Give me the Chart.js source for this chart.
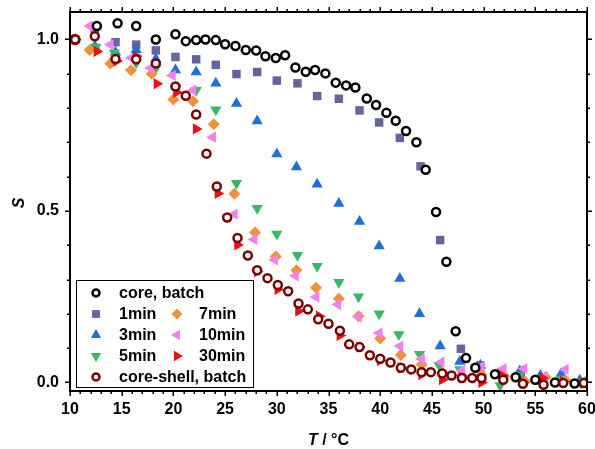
<!DOCTYPE html>
<html>
<head>
<meta charset="utf-8">
<script src="https://cdn.jsdelivr.net/npm/chart.js@4.4.1/dist/chart.umd.min.js"></script>
<style>
  html, body { margin: 0; padding: 0; background: #fff; }
  canvas { display: block; }
</style>
</head>
<body>
<canvas id="chart" width="595" height="449"></canvas>
<script>
// Values (T in °C, S)
const coreBatchT = [10.5, 12.6, 14.6, 16.4, 18.3, 20.2, 21.2, 22.2, 23.1, 24.1, 25.0, 26.0, 27.0, 28.0, 28.9, 29.9, 30.8, 31.8, 32.8, 33.7, 34.7, 35.7, 36.7, 37.6, 38.7, 39.6, 40.6, 41.5, 42.5, 43.5, 44.4, 45.4, 46.4, 47.3, 48.3, 49.2, 51.1, 53.1, 55.0, 56.9, 58.8];
const coreBatchS = [1.0, 1.039, 1.047, 1.039, 1.0, 1.015, 0.995, 0.998, 1.0, 0.998, 0.986, 0.981, 0.969, 0.968, 0.951, 0.946, 0.954, 0.918, 0.906, 0.911, 0.901, 0.874, 0.866, 0.86, 0.828, 0.809, 0.786, 0.763, 0.733, 0.70, 0.62, 0.497, 0.352, 0.149, 0.071, 0.043, 0.024, 0.015, 0.008, 0.0, -0.003];

const min1T = [10.5, 12.4, 14.4, 16.4, 18.3, 20.2, 22.2, 24.1, 26.1, 28.1, 30.0, 32.0, 33.9, 36.0, 38.0, 39.9, 41.9, 43.9, 45.8, 47.8, 49.7, 51.7, 53.6, 55.6, 57.5, 59.5];
const min1S = [1.0, 1.02, 0.992, 0.985, 0.968, 0.949, 0.942, 0.926, 0.899, 0.905, 0.88, 0.872, 0.835, 0.827, 0.793, 0.758, 0.713, 0.63, 0.415, 0.098, 0.05, 0.03, 0.02, 0.01, 0.005, 0.0];

const min3T = [10.5, 12.4, 14.4, 16.4, 18.3, 20.2, 22.2, 24.1, 26.1, 28.1, 30.0, 31.9, 33.9, 36.0, 38.0, 39.9, 41.9, 43.8, 45.8, 47.7, 49.7, 51.6, 53.5, 55.5, 57.5, 59.3];
const min3S = [1.0, 0.98, 0.963, 0.97, 0.943, 0.911, 0.905, 0.872, 0.813, 0.762, 0.666, 0.628, 0.578, 0.522, 0.469, 0.398, 0.303, 0.2, 0.106, 0.061, 0.05, 0.023, 0.033, 0.02, 0.025, 0.006];

const min5T = [10.5, 12.5, 14.3, 16.4, 18.3, 20.2, 22.2, 24.1, 26.1, 28.1, 30.0, 32.0, 33.9, 36.0, 37.9, 39.9, 41.8, 43.8, 45.7, 47.7, 49.7, 51.6, 53.5, 55.5, 57.5, 59.4];
const min5S = [1.0, 0.978, 0.961, 0.932, 0.917, 0.858, 0.852, 0.795, 0.581, 0.508, 0.433, 0.371, 0.339, 0.292, 0.25, 0.2, 0.14, 0.082, 0.05, 0.038, 0.035, -0.009, 0.02, 0.0, 0.01, 0.0];

const min7T = [10.5, 11.9, 13.9, 15.9, 17.9, 20.0, 21.9, 23.9, 25.9, 27.9, 29.9, 31.9, 33.8, 36.0, 37.9, 40.0, 42.0, 44.0, 46.0, 47.9, 49.8, 52.0, 54.0, 56.0, 57.9, 59.8];
const min7S = [1.0, 0.969, 0.93, 0.91, 0.9, 0.825, 0.82, 0.753, 0.55, 0.437, 0.367, 0.327, 0.276, 0.244, 0.193, 0.128, 0.08, 0.052, 0.028, 0.02, 0.023, 0.018, 0.003, 0.016, 0.006, 0.001];

const min10T = [10.5, 11.9, 13.9, 15.9, 17.8, 19.9, 21.9, 23.8, 25.9, 27.8, 29.8, 31.8, 33.8, 35.9, 37.9, 39.9, 41.9, 44.0, 45.9, 47.9, 49.8, 51.9, 53.9, 55.9, 57.9, 59.8];
const min10S = [1.0, 1.039, 0.985, 0.946, 0.917, 0.895, 0.852, 0.715, 0.491, 0.417, 0.357, 0.311, 0.249, 0.227, 0.191, 0.144, 0.106, 0.069, 0.059, 0.035, 0.047, 0.04, 0.04, 0.016, 0.038, 0.003];

const min30T = [10.5, 12.6, 14.5, 16.4, 18.4, 20.3, 22.2, 24.3, 26.2, 28.1, 30.1, 32.1, 34.1, 36.1, 38.0, 40.0, 42.0, 44.0, 46.0, 47.9, 49.8, 51.8, 53.8, 55.7, 57.7, 59.7];
const min30S = [1.0, 0.965, 0.937, 0.951, 0.871, 0.846, 0.739, 0.551, 0.401, 0.323, 0.271, 0.208, 0.193, 0.137, 0.103, 0.064, 0.043, 0.023, 0.008, 0.014, 0.0, 0.02, 0.0, 0.013, 0.003, -0.003];

const coreShellT = [10.5, 12.4, 14.4, 16.4, 18.3, 20.2, 21.2, 22.2, 23.2, 24.2, 25.2, 26.2, 27.2, 28.1, 29.1, 30.1, 31.1, 32.1, 33.0, 34.0, 35.0, 36.1, 37.0, 38.0, 39.0, 40.0, 41.0, 42.0, 43.0, 44.0, 44.9, 46.0, 46.9, 47.9, 48.9, 49.8, 51.9, 53.8, 55.8, 57.7, 59.7];
const coreShellS = [1.0, 1.009, 0.943, 0.942, 0.93, 0.863, 0.836, 0.781, 0.667, 0.571, 0.481, 0.421, 0.37, 0.327, 0.304, 0.284, 0.266, 0.23, 0.213, 0.184, 0.171, 0.151, 0.111, 0.103, 0.079, 0.069, 0.058, 0.043, 0.038, 0.03, 0.03, 0.026, 0.02, 0.013, 0.013, 0.013, 0.008, -0.004, -0.007, -0.002, -0.002];

// Axis ticks
const xTicks = [10, 15, 20, 25, 30, 35, 40, 45, 50, 55, 60];
const yTicks = [0.0, 0.5, 1.0];

function pts(xs, ys) {
    return xs.map((x, i) => ({ x: x, y: ys[i] }));
}

const datasets = [
    { label: 'core, batch', data: pts(coreBatchT, coreBatchS), pointStyle: 'circle', pointRadius: 4, borderWidth: 2.5, borderColor: '#000000', backgroundColor: '#ffffff', rotation: 0, order: 1 },
    { label: '1min', data: pts(min1T, min1S), pointStyle: 'rect', pointRadius: 6, borderWidth: 0, borderColor: '#64649f', backgroundColor: '#64649f', rotation: 0, order: 7 },
    { label: '3min', data: pts(min3T, min3S), pointStyle: 'triangle', pointRadius: 6.5, borderWidth: 0, borderColor: '#1f6fdb', backgroundColor: '#1f6fdb', rotation: 0, order: 6 },
    { label: '5min', data: pts(min5T, min5S), pointStyle: 'triangle', pointRadius: 6.5, borderWidth: 0, borderColor: '#37b866', backgroundColor: '#37b866', rotation: 180, order: 5 },
    { label: '7min', data: pts(min7T, min7S), pointStyle: 'rectRot', pointRadius: 6, borderWidth: 0, borderColor: '#f0913c', backgroundColor: '#f0913c', rotation: 0, order: 4 },
    { label: '10min', data: pts(min10T, min10S), pointStyle: 'triangle', pointRadius: 6.5, borderWidth: 0, borderColor: '#f47ef2', backgroundColor: '#f47ef2', rotation: 270, order: 3 },
    { label: '30min', data: pts(min30T, min30S), pointStyle: 'triangle', pointRadius: 6.5, borderWidth: 0, borderColor: '#ec1010', backgroundColor: '#ec1010', rotation: 90, order: 2 },
    { label: 'core-shell, batch', data: pts(coreShellT, coreShellS), pointStyle: 'circle', pointRadius: 4, borderWidth: 2.5, borderColor: '#780000', backgroundColor: '#ffffff', rotation: 0, order: 0 }
];

// legend layout: rows of dataset indices
const legendRows = [[0], [1, 4], [2, 5], [3, 6], [7]];

const frame = {
    id: 'frame',
    afterDraw(chart) {
        const { ctx, chartArea: a, scales: { x, y } } = chart;
        ctx.save();
        ctx.strokeStyle = '#000';
        ctx.lineWidth = 2;
        ctx.strokeRect(a.left, a.top, a.right - a.left, a.bottom - a.top);

        // ticks on all four sides, pointing out
        ctx.lineWidth = 1.5;
        ctx.beginPath();
        for (let v = 10; v <= 60; v++) {
            const px = Math.round(x.getPixelForValue(v)) + 0.25;
            const len = v % 5 === 0 ? 5 : 3;
            ctx.moveTo(px, a.bottom); ctx.lineTo(px, a.bottom + len);
            ctx.moveTo(px, a.top); ctx.lineTo(px, a.top - len);
        }
        for (let k = 0; k <= 10; k++) {
            const py = Math.round(y.getPixelForValue(k / 10)) + 0.25;
            const len = k % 5 === 0 ? 5 : 3;
            ctx.moveTo(a.left, py); ctx.lineTo(a.left - len, py);
            ctx.moveTo(a.right, py); ctx.lineTo(a.right + len, py);
        }
        ctx.stroke();

        // axis titles
        ctx.fillStyle = '#000';
        ctx.textBaseline = 'alphabetic';
        ctx.textAlign = 'left';
        ctx.font = 'italic bold 16px "Liberation Sans", Arial, sans-serif';
        const tW = ctx.measureText('T').width;
        ctx.font = 'bold 16px "Liberation Sans", Arial, sans-serif';
        const restW = ctx.measureText(' / °C').width;
        const cx = (a.left + a.right) / 2;
        let sx = cx - (tW + restW) / 2;
        ctx.font = 'italic bold 16px "Liberation Sans", Arial, sans-serif';
        ctx.fillText('T', sx, 445);
        ctx.font = 'bold 16px "Liberation Sans", Arial, sans-serif';
        ctx.fillText(' / °C', sx + tW, 445);

        ctx.save();
        ctx.translate(24, 203);
        ctx.rotate(-Math.PI / 2);
        ctx.textAlign = 'center';
        ctx.font = 'italic bold 16px "Liberation Sans", Arial, sans-serif';
        ctx.fillText('S', 0, 0);
        ctx.restore();

        // legend box
        const box = { left: 76, top: 280, right: 253, bottom: 387 };
        ctx.fillStyle = '#fff';
        ctx.fillRect(box.left, box.top, box.right - box.left, box.bottom - box.top);
        ctx.lineWidth = 1;
        ctx.strokeStyle = '#000';
        ctx.strokeRect(box.left + 0.5, box.top + 0.5, box.right - box.left, box.bottom - box.top);

        const colSym = [96, 177];
        const colText = [119, 199];
        ctx.font = 'bold 16px "Liberation Sans", Arial, sans-serif';
        ctx.textBaseline = 'middle';
        legendRows.forEach((row, r) => {
            const ry = 293 + r * 21;
            row.forEach((di, c) => {
                const ds = chart.data.datasets[di];
                ctx.fillStyle = ds.backgroundColor;
                ctx.strokeStyle = ds.borderColor;
                ctx.lineWidth = ds.borderWidth;
                Chart.helpers.drawPoint(ctx, {
                    pointStyle: ds.pointStyle,
                    radius: ds.pointStyle === 'circle' ? 3.5 : ds.pointRadius - 0.5,
                    rotation: ds.rotation,
                    borderWidth: ds.borderWidth
                }, colSym[c], ry);
                ctx.fillStyle = '#000';
                ctx.textAlign = 'left';
                ctx.fillText(ds.label, colText[c], ry + 1);
            });
        });
        ctx.restore();
    }
};

new Chart(document.getElementById('chart'), {
    type: 'scatter',
    data: {
        datasets: datasets.map(ds => ({
            label: ds.label,
            data: ds.data,
            pointStyle: ds.pointStyle,
            pointRadius: ds.pointRadius,
            pointBorderWidth: ds.borderWidth,
            pointBorderColor: ds.borderColor,
            pointBackgroundColor: ds.backgroundColor,
            pointRotation: ds.rotation,
            borderWidth: ds.borderWidth,
            borderColor: ds.borderColor,
            backgroundColor: ds.backgroundColor,
            rotation: ds.rotation,
            order: ds.order,
            showLine: false
        }))
    },
    options: {
        responsive: false,
        animation: false,
        events: [],
        layout: { padding: { left: 0, right: 8, top: 12, bottom: 0 } },
        plugins: {
            legend: { display: false },
            tooltip: { enabled: false }
        },
        scales: {
            x: {
                type: 'linear',
                min: 10,
                max: 60,
                afterBuildTicks: scale => { scale.ticks = xTicks.map(v => ({ value: v })); },
                afterFit: scale => { scale.height = 58; scale.paddingLeft = 0; scale.paddingRight = 0; },
                grid: { display: false, drawTicks: false },
                border: { display: false },
                ticks: {
                    padding: 9,
                    color: '#000',
                    font: { family: '"Liberation Sans", Arial, sans-serif', size: 16, weight: 'bold' }
                }
            },
            y: {
                type: 'linear',
                min: -0.025,
                max: 1.08,
                afterBuildTicks: scale => { scale.ticks = yTicks.map(v => ({ value: v })); },
                afterFit: scale => { scale.width = 70; scale.paddingTop = 0; scale.paddingBottom = 0; },
                grid: { display: false, drawTicks: false },
                border: { display: false },
                ticks: {
                    padding: 11,
                    color: '#000',
                    callback: v => v.toFixed(1),
                    font: { family: '"Liberation Sans", Arial, sans-serif', size: 16, weight: 'bold' }
                }
            }
        }
    },
    plugins: [frame]
});
</script>
</body>
</html>
